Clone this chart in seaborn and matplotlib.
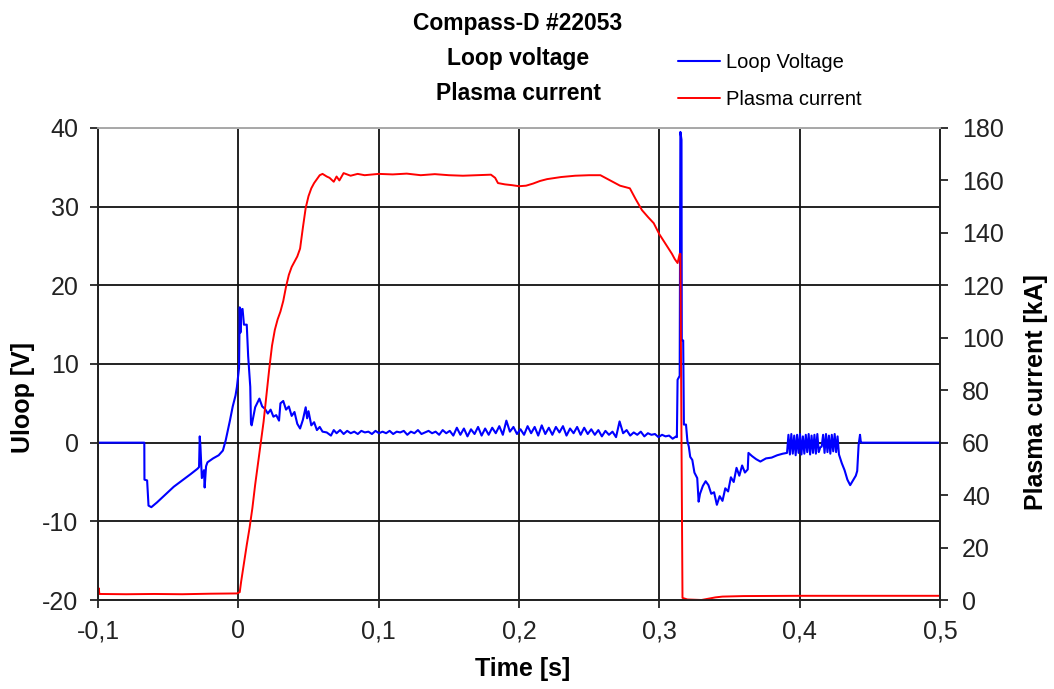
import numpy as np
import pandas as pd
import matplotlib
matplotlib.use("Agg")
import matplotlib.pyplot as plt
from matplotlib.ticker import FuncFormatter, MultipleLocator
import seaborn as sns

# --- Data (Compass-D shot #22053) --- #
# Loop voltage [V]: shape points before the flat-top
t_uloop_start = [-0.100, -0.067, -0.0669, -0.065, -0.064, -0.062, -0.058, -0.052,
                 -0.046, -0.040, -0.034, -0.029, -0.028, -0.0275, -0.027, -0.026,
                 -0.0245, -0.024, -0.023, -0.022, -0.018, -0.014, -0.011, -0.009,
                 -0.006, -0.004, -0.002, -0.001, 0.0005, 0.001, 0.0015, 0.002,
                 0.003, 0.004, 0.006, 0.007, 0.0085, 0.009, 0.0095, 0.012, 0.015,
                 0.017, 0.019, 0.021, 0.023, 0.025, 0.027, 0.029, 0.030, 0.032,
                 0.034, 0.036, 0.038, 0.040, 0.042, 0.044, 0.046, 0.048, 0.049,
                 0.050, 0.052, 0.054, 0.056, 0.058, 0.060, 0.063, 0.066, 0.068]
u_loop_start = [0.0, 0.0, -4.7, -4.8, -8.0, -8.2, -7.6, -6.6,
                -5.6, -4.8, -4.0, -3.3, -3.1, 0.8, -0.5, -4.5,
                -3.5, -5.7, -3.0, -2.5, -2.0, -1.6, -1.0, 0.3,
                2.8, 4.6, 6.0, 7.1, 9.5, 17.2, 14.0, 16.9,
                17.0, 15.0, 15.0, 11.0, 7.1, 2.5, 2.2, 4.5, 5.6,
                4.6, 4.3, 3.7, 4.2, 3.3, 3.5, 2.8, 5.0, 5.3,
                4.2, 4.6, 3.4, 3.9, 2.4, 1.8, 2.9, 4.5, 3.1,
                4.0, 2.2, 2.6, 1.6, 2.0, 1.4, 1.3, 0.9, 1.6]

# Loop voltage flat-top (0.070 s .. 0.312 s, noisy)
flat_t0, flat_t1 = 0.070, 0.312
u_loop_flat = [1.2, 1.6, 1.1, 1.5, 1.2, 1.4, 1.1, 1.5, 1.3, 1.4, 1.1, 1.5, 1.2,
               1.4, 1.2, 1.5, 1.1, 1.4, 1.3, 1.5, 1.0, 1.4, 1.2, 1.6, 1.1, 1.3,
               1.5, 1.2, 1.4, 1.0, 1.6, 1.2, 1.5,
               0.9, 1.9, 1.0, 1.8, 0.8, 1.7, 1.1, 2.0, 0.9, 1.8, 1.0, 1.9, 1.2,
               2.1, 1.0, 2.8, 1.4, 2.0, 1.1, 1.7,
               1.0, 2.1, 1.2, 2.0, 0.9, 2.2, 1.1, 1.9, 1.0, 2.0, 1.3, 2.1, 0.9,
               1.8, 1.2, 2.0, 1.0, 1.9, 1.1, 1.7,
               1.0, 1.6, 0.8, 1.5, 1.0, 1.4, 0.7, 2.7, 1.2, 1.6, 0.9, 1.3, 1.0,
               1.4, 0.8, 1.2, 1.0, 1.1, 0.7, 1.0, 0.8, 0.9, 0.5, 0.8]

# Loop voltage around the disruption and after
t_uloop_end = [0.3125, 0.313, 0.3145, 0.315, 0.3158, 0.316, 0.317, 0.3175, 0.319,
               0.320, 0.321, 0.322, 0.3235, 0.325, 0.327, 0.328, 0.329, 0.331,
               0.333, 0.335, 0.337, 0.339, 0.341, 0.343, 0.345, 0.347, 0.349,
               0.351, 0.353, 0.355, 0.357, 0.359, 0.361, 0.363, 0.3635, 0.366,
               0.369, 0.372, 0.376, 0.380, 0.384, 0.388, 0.391]
u_loop_end = [0.7, 8.0, 8.5, 39.5, 38.5, 13.0, 13.0, 2.3, 2.3,
              0.2, -0.5, -1.8, -2.2, -3.8, -4.5, -7.5, -6.5, -5.5,
              -4.9, -5.4, -6.5, -6.3, -7.9, -6.8, -7.4, -5.8, -6.2,
              -4.4, -5.0, -3.2, -4.2, -2.9, -3.8, -3.4, -1.3, -1.7,
              -2.1, -2.4, -2.0, -1.9, -1.6, -1.4, -1.3]

# Loop voltage oscillating block (0.392 s .. 0.427 s)
osc_t0, osc_t1 = 0.392, 0.427
u_loop_osc = [1.0, -1.5, 1.1, -1.4, 0.9, -1.6, 1.0, -1.3, 1.1, -1.5, 0.8, -1.4,
              1.0, -1.2, 1.1, -1.5, 0.9, -1.3, 1.0, -1.4, 1.1, -1.2, -0.6, -0.5,
              1.0, -1.3, 1.1, -1.2, 0.9, -1.4, 1.0, -1.1, 1.1, -1.2, 0.8]

t_uloop_tail = [0.428, 0.430, 0.432, 0.434, 0.436, 0.438, 0.440, 0.441, 0.442,
                0.443, 0.4435, 0.444, 0.500]
u_loop_tail = [-1.5, -2.6, -3.5, -4.7, -5.4, -4.8, -4.2, -3.6, -0.3,
               1.0, 0.2, 0.0, 0.0]

# Plasma current [kA]
t_ip = [-0.100, -0.0995, -0.099, -0.080, -0.060, -0.040, -0.020, -0.001, 0.001,
        0.002, 0.004, 0.006, 0.008, 0.010, 0.012, 0.014, 0.016, 0.018, 0.020,
        0.022, 0.024, 0.026, 0.028, 0.030, 0.032, 0.034, 0.036, 0.038, 0.040,
        0.042, 0.044, 0.046, 0.048, 0.050, 0.052, 0.054, 0.056, 0.058, 0.060,
        0.063, 0.065, 0.068, 0.070, 0.072, 0.075, 0.080, 0.085, 0.090, 0.100,
        0.110, 0.120, 0.130, 0.140, 0.150, 0.160, 0.170, 0.180, 0.183, 0.185,
        0.190, 0.195, 0.200, 0.205, 0.210, 0.215, 0.220, 0.230, 0.240, 0.250,
        0.258, 0.265, 0.272, 0.279, 0.283, 0.2876, 0.292, 0.296, 0.300, 0.303,
        0.306, 0.309, 0.311, 0.313, 0.3145, 0.315, 0.3158, 0.3165, 0.320, 0.330,
        0.335, 0.340, 0.345, 0.360, 0.400, 0.450, 0.500]
ip_ka = [2.0, 4.5, 2.3, 2.2, 2.3, 2.2, 2.4, 2.5, 3.0,
         7.0, 14.0, 21.0, 27.5, 35.0, 44.0, 52.0, 60.0, 68.0, 78.0,
         88.0, 97.0, 103.0, 107.0, 110.0, 114.0, 119.5, 124.0, 127.0, 129.0,
         131.0, 134.0, 142.0, 149.5, 154.0, 157.0, 159.0, 160.5, 162.0, 162.5,
         161.5, 161.0, 159.5, 161.5, 160.0, 162.8, 161.8, 162.5, 162.0, 162.5,
         162.3, 162.6, 162.0, 162.4, 162.0, 161.8, 162.0, 162.2, 161.0, 159.0,
         158.5, 158.2, 157.8, 158.0, 158.8, 159.8, 160.5, 161.3, 161.8, 162.0,
         162.0, 160.0, 158.0, 157.0, 153.0, 148.7, 146.0, 143.7, 139.5, 137.0,
         134.5, 132.0, 130.0, 128.5, 132.0, 132.0, 60.0, 0.8, 0.2, 0.0,
         0.5, 1.0, 1.3, 1.5, 1.6, 1.6, 1.6]

# --- Assemble loop voltage trace --- #
t_flat = np.linspace(flat_t0, flat_t1, len(u_loop_flat))
t_osc = np.linspace(osc_t0, osc_t1, len(u_loop_osc))
uloop = pd.DataFrame({
    "t": np.concatenate([t_uloop_start, t_flat, t_uloop_end, t_osc, t_uloop_tail]),
    "u": np.concatenate([u_loop_start, u_loop_flat, u_loop_end, u_loop_osc, u_loop_tail]),
})
ip = pd.DataFrame({"t": t_ip, "ip": ip_ka})

# --- Plotting --- #
sns.set_theme(style="white")
plt.rcParams['font.family'] = ['Liberation Sans', 'DejaVu Sans']
plt.rcParams['axes.unicode_minus'] = False
plt.rcParams['text.color'] = 'black'
plt.rcParams['axes.labelcolor'] = 'black'

fig = plt.figure(figsize=(10.54, 6.89), dpi=100)
ax = fig.add_axes([98 / 1054, 1 - 600 / 689, 842 / 1054, 472 / 689])
ax2 = ax.twinx()

sns.lineplot(data=uloop, x="t", y="u", ax=ax, color="#0000ff", lw=1.5,
             sort=False, estimator=None, label="Loop Voltage", legend=False)
sns.lineplot(data=ip, x="t", y="ip", ax=ax2, color="#ff0000", lw=1.4,
             sort=False, estimator=None, label="Plasma current", legend=False)

comma = FuncFormatter(lambda v, pos: f"{v:g}".replace(".", ","))
ax.set_xlim(-0.1, 0.5)
ax.set_ylim(-20, 40)
ax2.set_ylim(0, 180)
ax.xaxis.set_major_locator(MultipleLocator(0.1))
ax.yaxis.set_major_locator(MultipleLocator(10))
ax2.yaxis.set_major_locator(MultipleLocator(20))
ax.xaxis.set_major_formatter(comma)
ax.yaxis.set_major_formatter(comma)

ax.grid(True, color="#111111", lw=1.3)
ax.set_axisbelow(True)

for a in (ax, ax2):
    a.tick_params(direction="out", length=6, width=1.2, colors="#111111",
                  labelsize=18, labelcolor="#222222")
    for side in ("left", "right", "bottom"):
        a.spines[side].set_color("#222222")
        a.spines[side].set_linewidth(1.3)
    a.spines["top"].set_color("#aaaaaa")
    a.spines["top"].set_linewidth(1.3)
ax.tick_params(left=True, bottom=True, pad=8)
ax2.tick_params(right=True, pad=10)

ax.set_xlabel("Time [s]", fontsize=18, fontweight="bold")
ax.set_ylabel("Uloop [V]", fontsize=18, fontweight="bold")
ax2.set_ylabel("Plasma current [kA]", fontsize=18, fontweight="bold")
ax.xaxis.set_label_coords(0.504, -0.12)
ax.yaxis.set_label_coords(-0.075, 0.43)
ax2.yaxis.set_label_coords(1.10, 0.44)

fig.text(518 / 1054, 1 - 12 / 689, "Compass-D #22053\nLoop voltage\nPlasma current",
         ha="center", va="top", fontsize=16.5, fontweight="bold",
         linespacing=1.68)

handles = ax.get_lines()[:1] + ax2.get_lines()[:1]
fig.legend(handles, ["Loop Voltage", "Plasma current"],
           loc="upper left", bbox_to_anchor=(660 / 1054, 1 - 35 / 689),
           frameon=False, fontsize=14.5, handlelength=2.1, handletextpad=0.3,
           labelspacing=0.9)

fig.savefig("out.png", dpi=100)
